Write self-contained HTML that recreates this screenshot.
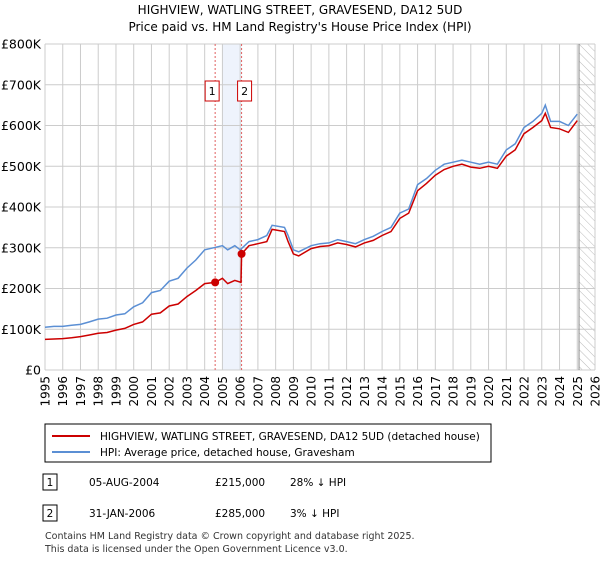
<!DOCTYPE html>
<html><head><meta charset="utf-8"><style>
body{margin:0;background:#fff;font-family:"Liberation Sans","DejaVu Sans",sans-serif;}
svg text{font-family:"DejaVu Sans","Liberation Sans",sans-serif;}
</style></head><body>
<svg id="c" width="600" height="560" viewBox="0 0 600 560" xmlns="http://www.w3.org/2000/svg">
<defs><pattern id="hatch" width="6" height="6" patternUnits="userSpaceOnUse" patternTransform="rotate(-45)"><line x1="0" y1="0" x2="0" y2="6" stroke="#bbb" stroke-width="1"/></pattern></defs>
<text x="300" y="14" font-size="12" text-anchor="middle">HIGHVIEW, WATLING STREET, GRAVESEND, DA12 5UD</text>
<text x="300" y="31" font-size="12" text-anchor="middle">Price paid vs. HM Land Registry's House Price Index (HPI)</text>
<g id="grid"></g><g id="series"></g><g id="axes"></g>
<rect x="45" y="424" width="446" height="38" fill="#fff" stroke="#000" stroke-width="1"/>
<line x1="52" y1="436" x2="90" y2="436" stroke="#cc0000" stroke-width="2"/>
<text x="100" y="440" font-size="10.5">HIGHVIEW, WATLING STREET, GRAVESEND, DA12 5UD (detached house)</text>
<line x1="52" y1="452" x2="90" y2="452" stroke="#5b8fd4" stroke-width="2"/>
<text x="100" y="456" font-size="10.5">HPI: Average price, detached house, Gravesham</text>
<g font-size="10.5">
<rect x="43" y="474" width="14" height="16" fill="#fff" stroke="#000"/>
<text x="50" y="486" text-anchor="middle">1</text>
<text x="89" y="486">05-AUG-2004</text><text x="215" y="486">£215,000</text><text x="290" y="486">28% ↓ HPI</text>
<rect x="43" y="505" width="14" height="16" fill="#fff" stroke="#000"/>
<text x="50" y="517" text-anchor="middle">2</text>
<text x="89" y="517">31-JAN-2006</text><text x="215" y="517">£285,000</text><text x="290" y="517">3% ↓ HPI</text>
</g>
<text x="45" y="539" font-size="9.5" fill="#333">Contains HM Land Registry data © Crown copyright and database right 2025.</text>
<text x="45" y="552" font-size="9.5" fill="#333">This data is licensed under the Open Government Licence v3.0.</text>
</svg>
<script>
const hpiT=[1995,1995.5,1996,1996.5,1997,1997.5,1998,1998.5,1999,1999.5,2000,2000.5,2001,2001.5,2002,2002.5,2003,2003.5,2004,2004.5,2005,2005.3,2005.7,2006,2006.5,2007,2007.5,2007.8,2008.5,2008.7,2009,2009.3,2010,2010.5,2011,2011.5,2012,2012.5,2013,2013.5,2014,2014.5,2015,2015.5,2016,2016.5,2017,2017.5,2018,2018.5,2019,2019.5,2020,2020.5,2021,2021.5,2022,2022.5,2023,2023.2,2023.5,2024,2024.5,2025];
const hpiV=[105,107,107,110,112,118,125,127,135,138,155,165,190,195,218,225,250,270,295,300,305,295,305,295,315,320,330,355,350,330,295,290,305,310,312,320,315,310,320,328,340,350,385,395,455,470,490,505,510,515,510,505,510,505,540,555,595,610,630,650,610,610,600,628];
const redT=[1995,1995.5,1996,1996.5,1997,1997.5,1998,1998.5,1999,1999.5,2000,2000.5,2001,2001.5,2002,2002.5,2003,2003.5,2004,2004.59,2005,2005.3,2005.7,2006.05,2006.08,2006.5,2007,2007.5,2007.8,2008.5,2008.7,2009,2009.3,2010,2010.5,2011,2011.5,2012,2012.5,2013,2013.5,2014,2014.5,2015,2015.5,2016,2016.5,2017,2017.5,2018,2018.5,2019,2019.5,2020,2020.5,2021,2021.5,2022,2022.5,2023,2023.2,2023.5,2024,2024.5,2025];
const redV=[75,76,77,79,82,86,90,92,98,102,112,118,137,140,157,162,180,195,212,215,225,212,220,215,285,305,310,315,345,340,315,285,280,298,303,305,312,308,302,312,318,330,340,372,385,440,458,478,492,500,505,498,495,500,495,525,540,580,595,612,630,595,592,583,612];
const saleT=[2004.59,2006.08];
const saleV=[215,285];
const yTicks=[0,100,200,300,400,500,600,700,800];
const yLabels=["£0","£100K","£200K","£300K","£400K","£500K","£600K","£700K","£800K"];
const xYears=[1995,1996,1997,1998,1999,2000,2001,2002,2003,2004,2005,2006,2007,2008,2009,2010,2011,2012,2013,2014,2015,2016,2017,2018,2019,2020,2021,2022,2023,2024,2025,2026];
const X0=45,X1=595,Y0=370,Y1=44;
const xs=t=>X0+(t-1995)/31*(X1-X0);
const ys=v=>Y0-v/800*(Y0-Y1);
const NS="http://www.w3.org/2000/svg";
function mk(p,tag,a){const e=document.createElementNS(NS,tag);for(const k in a)e.setAttribute(k,a[k]);p.appendChild(e);return e;}
const g=document.getElementById('grid'),s=document.getElementById('series'),ax=document.getElementById('axes');
let sh=mk(g,'rect',{x:xs(2005),y:Y1,width:xs(saleT[1])-xs(2005),height:Y0-Y1,fill:'#eef3fc'});


let ht=mk(g,'rect',{x:xs(2025.1),y:Y1,width:X1-xs(2025.1),height:Y0-Y1,fill:'url(#hatch)'});


yTicks.forEach((v,i)=>{
 let l=mk(g,'line',{x1:X0,x2:X1,y1:ys(v),y2:ys(v),stroke:'#cccccc','stroke-width':1});
 
 
 let t=mk(ax,'text',{x:X0-4,y:ys(v)+4.5,'text-anchor':'end','font-size':12.5});
 t.textContent=yLabels[i];
 
 
});
xYears.forEach(yr=>{
 let l=mk(g,'line',{x1:xs(yr),x2:xs(yr),y1:Y1,y2:Y0,stroke:'#cccccc','stroke-width':1});
 
 
 let t=mk(ax,'text',{transform:`translate(${xs(yr)+4.5},${Y0+6}) rotate(-90)`,'text-anchor':'end','font-size':12});
 t.textContent=yr;
 
 
});
let nl=mk(g,'line',{x1:xs(2025.1),x2:xs(2025.1),y1:Y1,y2:Y0,stroke:'#888','stroke-width':1});


saleT.forEach((t,i)=>{
 let l=mk(g,'line',{x1:xs(t),x2:xs(t),y1:Y1,y2:Y0,stroke:'#e06060','stroke-width':1,'stroke-dasharray':'2,2'});
 
 
 let b=mk(ax,'rect',{x:xs(t)-(i==0?10:4),y:81,width:14,height:20,fill:'#fff',stroke:'#cc0000'});
 
 
 let tx=mk(ax,'text',{x:xs(t)-(i==0?3:-3),y:95,'text-anchor':'middle','font-size':11});
 tx.textContent=String(i+1);
 
 
});
function path(T,V){return T.map((t,i)=>(i?'L':'M')+xs(t).toFixed(1)+','+ys(V[i]).toFixed(1)).join('');}
let hp=mk(s,'path',{d:path(hpiT,hpiV),fill:'none',stroke:'#5b8fd4','stroke-width':1.5});


let rp=mk(s,'path',{d:path(redT,redV),fill:'none',stroke:'#cc0000','stroke-width':1.5});


saleT.forEach((t,i)=>{
 let c=mk(s,'circle',{cx:xs(t),cy:ys(saleV[i]),r:4,fill:'#cc0000'});
 
 
});
</script>
</body></html>
